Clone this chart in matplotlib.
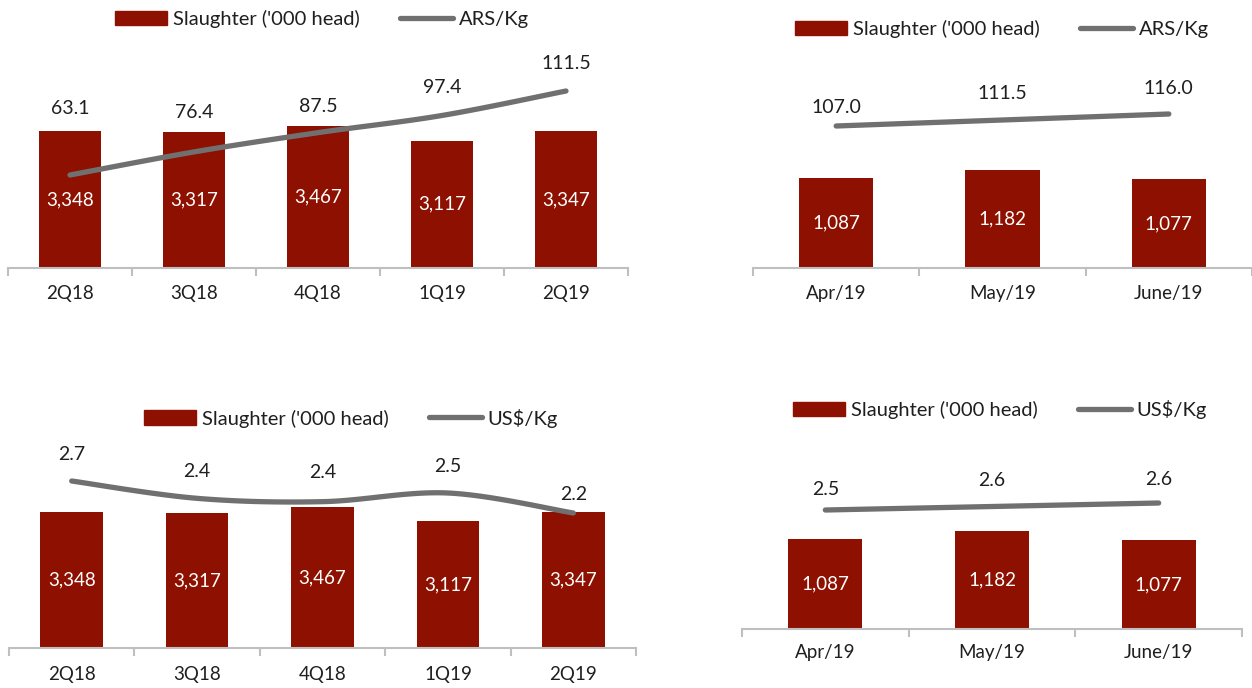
import numpy as np
import matplotlib
matplotlib.use('Agg')
import matplotlib.pyplot as plt
from matplotlib.patches import Patch
from matplotlib.lines import Line2D

quarters = ['2Q18', '3Q18', '4Q18', '1Q19', '2Q19']
months = ['Apr/19', 'May/19', 'June/19']
slaughter_q = [3348, 3317, 3467, 3117, 3347]
slaughter_m = [1087, 1182, 1077]
ars_q = [63.1, 76.4, 87.5, 97.4, 111.5]
ars_m = [107.0, 111.5, 116.0]
usd_q = [2.68, 2.42, 2.37, 2.50, 2.20]
usd_m = [2.52, 2.57, 2.62]

BAR = '#8E1000'
LINE = '#707070'
AXIS = '#BFBFBF'
TXT = '#1F1F1F'
W, H = 1252, 688

plt.rc('font', family=['Lato', 'DejaVu Sans'], size=13)


def smooth(x, y, steps=30):
    # bezier curve through the points, like excel's smoothed line
    x = np.asarray(x, float)
    y = np.asarray(y, float)
    n = len(x)
    px, py = [], []
    for i in range(n - 1):
        x0, y0 = x[max(i - 1, 0)], y[max(i - 1, 0)]
        x3, y3 = x[min(i + 2, n - 1)], y[min(i + 2, n - 1)]
        c1x = x[i] + (x[i + 1] - x0) / 6
        c1y = y[i] + (y[i + 1] - y0) / 6
        c2x = x[i + 1] - (x3 - x[i]) / 6
        c2y = y[i + 1] - (y3 - y[i]) / 6
        t = np.linspace(0, 1, steps)
        a, b, c, d = (1 - t) ** 3, 3 * (1 - t) ** 2 * t, 3 * (1 - t) * t ** 2, t ** 3
        px.extend(a * x[i] + b * c1x + c * c2x + d * x[i + 1])
        py.extend(a * y[i] + b * c1y + c * c2y + d * y[i + 1])
    return px, py


def panel(fig, box, cats, bars, line, line_name, ylim1, ylim2, bar_w, lab_off,
          leg_xy, tick_pad):
    x0, x1, ytop, ybot = box
    ax = fig.add_axes([x0 / W, 1 - ybot / H, (x1 - x0) / W, (ybot - ytop) / H])
    n = len(cats)
    x = np.arange(n)
    ax.bar(x, bars, width=bar_w, color=BAR, zorder=2)
    for xi, v in zip(x, bars):
        ax.text(xi, v / 2, f'{v:,}', color='white', ha='center', va='center', fontsize=13.5)
    ax.set_xlim(-0.5, n - 0.5)
    ax.set_ylim(*ylim1)
    for s in ['top', 'right', 'left']:
        ax.spines[s].set_visible(False)
    ax.spines['bottom'].set_color(AXIS)
    ax.spines['bottom'].set_linewidth(1.5)
    ax.set_yticks([])
    ax.set_xticks(x)
    ax.set_xticklabels(cats, color=TXT)
    ax.set_xticks(np.arange(n + 1) - 0.5, minor=True)
    ax.tick_params(axis='x', which='major', length=0, pad=tick_pad, labelsize=13.5)
    ax.tick_params(axis='x', which='minor', length=6, width=1.5, color=AXIS)

    ax2 = ax.twinx()
    ax2.set_ylim(*ylim2)
    ax2.axis('off')
    sx, sy = smooth(x, line)
    ax2.plot(sx, sy, color=LINE, lw=3.8, solid_capstyle='round', zorder=3)
    for xi, v, off in zip(x, line, lab_off):
        ax2.annotate(f'{v:.1f}', (xi, v), xytext=(0, off * 0.72), textcoords='offset points',
                     ha='center', va='center', color=TXT, fontsize=14)

    handles = [Patch(color=BAR, label="Slaughter ('000 head)"),
               Line2D([], [], color=LINE, lw=3.8, solid_capstyle='round', label=line_name)]
    fig.legend(handles=handles, loc='center', ncol=2, frameon=False,
               bbox_to_anchor=(leg_xy[0] / W, 1 - leg_xy[1] / H),
               handlelength=2.6, handletextpad=0.3, columnspacing=2.0, fontsize=14.5,
               labelcolor=TXT)


fig = plt.figure(figsize=(W / 100, H / 100), dpi=100)

panel(fig, (8, 628, 40, 268), quarters, slaughter_q, ars_q, 'ARS/Kg',
      (0, 5574), (9.51, 140.89), 0.5, [66, 39, 26, 28, 28], (322, 19), 12)
panel(fig, (753, 1252, 40, 268), months, slaughter_m, ars_m, 'ARS/Kg',
      (0, 2754), (0.5, 171.5), 0.445, [19, 27, 26], (1002, 29), 12)
panel(fig, (9, 636, 430, 648), quarters, slaughter_q, usd_q, 'US$/Kg',
      (0, 5356), (0.175, 3.445), 0.5, [26, 27, 29, 27, 19], (351, 418), 13)
panel(fig, (742, 1242, 430, 629), months, slaughter_m, usd_m, 'US$/Kg',
      (0, 2403), (0.82, 3.663), 0.445, [21, 26, 24], (1000, 410), 11)

fig.savefig('out.png', dpi=100)
